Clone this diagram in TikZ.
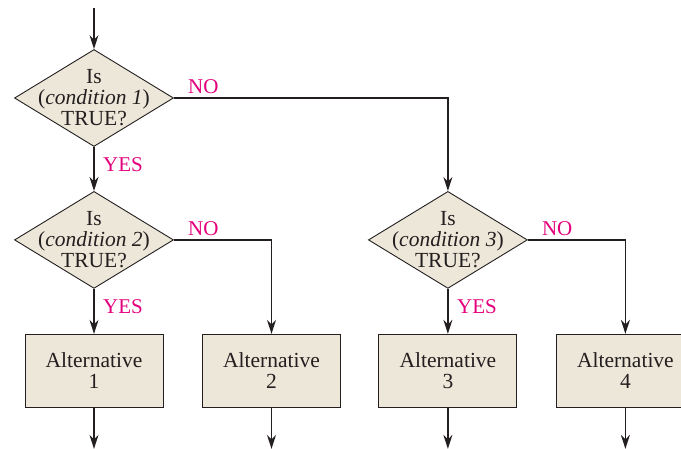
\documentclass[tikz,border=0pt]{standalone}
\usepackage{fontspec}
\setmainfont{Liberation Serif}
\usepackage{xcolor}
\usetikzlibrary{shapes.geometric, arrows.meta, positioning}
\definecolor{boxfill}{RGB}{236,231,216}
\definecolor{answer}{RGB}{228,0,124}
\definecolor{linecol}{RGB}{35,31,32}
\tikzset{
  base/.style={font=\fontsize{21.5}{21}\selectfont, text=linecol, align=center},
  decbox/.style={base, diamond, shape aspect=1.64, minimum width=159pt, minimum height=97pt,
    inner xsep=-18pt, inner ysep=-10pt, fill=boxfill, draw=linecol, line width=0.9pt},
  altbox/.style={base, rectangle, minimum width=138pt, minimum height=73pt, inner sep=0pt,
    fill=boxfill, draw=linecol, line width=1pt},
  answer/.style={font=\fontsize{21}{21}\selectfont, text=answer, inner sep=0pt},
  arrow/.style={-{Stealth[length=14pt, width=9pt]}, line width=1.4pt, linecol}
}
\begin{document}
\begin{tikzpicture}[x=1pt, y=-1pt, node distance=44pt]
  \useasboundingbox[clip] (0,0) rectangle (681,448);
  \node[decbox] (cond1) at (94,98) {Is\\(\textit{condition 1})\\TRUE?};
  \node[decbox, below=of cond1] (cond2) {Is\\(\textit{condition 2})\\TRUE?};
  \node[decbox, right=194pt of cond2] (cond3) {Is\\(\textit{condition 3})\\TRUE?};
  \node[altbox, below=45pt of cond2] (alt1) {Alternative\\1};
  \node[altbox, right=38.5pt of alt1] (alt2) {Alternative\\2};
  \node[altbox, below=45pt of cond3] (alt3) {Alternative\\3};
  \node[altbox, right=38.5pt of alt3] (alt4) {Alternative\\4};
  \coordinate (entry) at (94,8);
  \coordinate (out1) at ([yshift=-41pt]alt1.south);
  \coordinate (out2) at ([yshift=-41pt]alt2.south);
  \coordinate (out3) at ([yshift=-41pt]alt3.south);
  \coordinate (out4) at ([yshift=-41pt]alt4.south);
  \node[answer, anchor=south west] (no1) at ([xshift=14pt, yshift=4pt]cond1.east) {NO};
  \node[answer, anchor=south west] (no2) at ([xshift=14pt, yshift=4pt]cond2.east) {NO};
  \node[answer, anchor=south west] (no3) at ([xshift=14pt, yshift=4pt]cond3.east) {NO};
  \node[answer, anchor=west] (yes1) at ([xshift=9pt, yshift=-18pt]cond1.south) {YES};
  \node[answer, anchor=west] (yes2) at ([xshift=9pt, yshift=-18pt]cond2.south) {YES};
  \node[answer, anchor=west] (yes3) at ([xshift=9pt, yshift=-18pt]cond3.south) {YES};
  \draw[arrow] (entry) -- (cond1.north);
  \draw[arrow] (cond1.south) -- (cond2.north);
  \draw[arrow] (cond1.east) -| (cond3.north);
  \draw[arrow] (cond2.south) -- (alt1.north);
  \draw[arrow] (cond2.east) -| (alt2.north);
  \draw[arrow] (cond3.south) -- (alt3.north);
  \draw[arrow] (cond3.east) -| (alt4.north);
  \draw[arrow] (alt1.south) -- (out1);
  \draw[arrow] (alt2.south) -- (out2);
  \draw[arrow] (alt3.south) -- (out3);
  \draw[arrow] (alt4.south) -- (out4);
\end{tikzpicture}
\end{document}
